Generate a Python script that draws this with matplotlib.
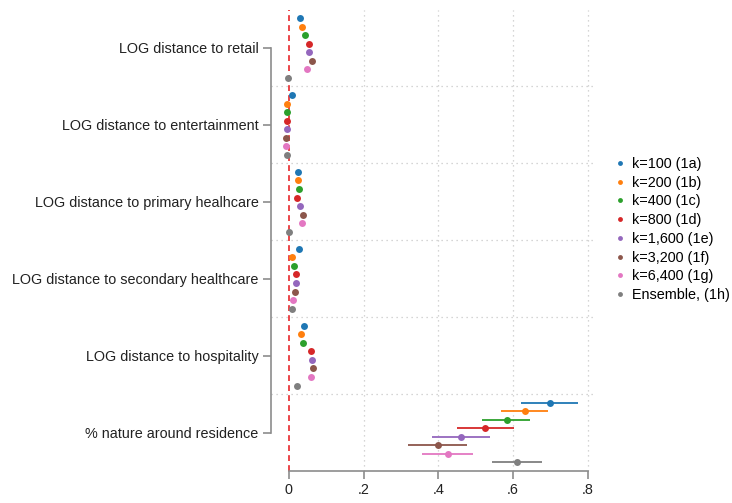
import matplotlib
matplotlib.use("Agg")
import matplotlib.pyplot as plt
import numpy as np

plt.rcParams['font.family'] = ['Liberation Sans', 'DejaVu Sans']

categories = ["LOG distance to retail", "LOG distance to entertainment",
              "LOG distance to primary healhcare", "LOG distance to secondary healthcare",
              "LOG distance to hospitality", "% nature around residence"]
series = ["k=100 (1a)", "k=200 (1b)", "k=400 (1c)", "k=800 (1d)",
          "k=1,600 (1e)", "k=3,200 (1f)", "k=6,400 (1g)", "Ensemble, (1h)"]
colors = ["#1f77b4", "#ff7f0e", "#2ca02c", "#d62728",
          "#9467bd", "#8c564b", "#e377c2", "#7f7f7f"]

# coefficients per series, over categories (retail, entertainment, primary, secondary, hospitality, nature)
coef = [
    [0.029, 0.009, 0.023, 0.026, 0.041, 0.699],
    [0.034, -0.005, 0.023, 0.009, 0.032, 0.632],
    [0.043, -0.004, 0.028, 0.014, 0.039, 0.584],
    [0.053, -0.005, 0.022, 0.018, 0.058, 0.526],
    [0.055, -0.004, 0.030, 0.019, 0.062, 0.461],
    [0.062, -0.008, 0.039, 0.015, 0.064, 0.399],
    [0.049, -0.009, 0.036, 0.010, 0.059, 0.425],
    [-0.003, -0.005, 0.000, 0.008, 0.022, 0.610],
]
ci_low = [
    [0.026, 0.006, 0.020, 0.023, 0.038, 0.621],
    [0.031, -0.008, 0.020, 0.006, 0.029, 0.569],
    [0.040, -0.007, 0.025, 0.011, 0.036, 0.518],
    [0.050, -0.008, 0.019, 0.015, 0.055, 0.450],
    [0.052, -0.007, 0.027, 0.016, 0.059, 0.384],
    [0.059, -0.011, 0.036, 0.012, 0.061, 0.320],
    [0.046, -0.012, 0.033, 0.007, 0.056, 0.356],
    [-0.006, -0.008, -0.003, 0.005, 0.019, 0.544],
]
ci_high = [
    [0.032, 0.012, 0.026, 0.029, 0.044, 0.774],
    [0.037, -0.002, 0.026, 0.012, 0.035, 0.694],
    [0.046, -0.001, 0.031, 0.017, 0.042, 0.646],
    [0.056, -0.002, 0.025, 0.021, 0.061, 0.603],
    [0.058, -0.001, 0.033, 0.022, 0.065, 0.538],
    [0.065, -0.005, 0.042, 0.018, 0.067, 0.476],
    [0.052, -0.006, 0.039, 0.013, 0.062, 0.494],
    [0.000, -0.002, 0.003, 0.011, 0.025, 0.677],
]
xticks = [0, 0.2, 0.4, 0.6, 0.8]
xticklabels = ["0", ".2", ".4", ".6", ".8"]

fig = plt.figure(figsize=(7.32, 5.03), dpi=100)
ax = fig.add_axes([271/732, (503-471)/503, (595-271)/732, (471-9.5)/503])

ncat = len(categories)
nser = len(series)
base = np.arange(ncat)
for i in range(nser):
    off = (i - (nser - 1) / 2) / 9.0
    y = base + off
    c = np.array(coef[i]); lo = np.array(ci_low[i]); hi = np.array(ci_high[i])
    ax.hlines(y, lo, hi, color=colors[i], lw=1.3, zorder=3)
    ax.plot(c, y, 'o', color=colors[i], ms=5, mew=0, zorder=4, label=series[i])

ax.axvline(0, color="#e8262a", ls=(0, (3.5, 2.5)), lw=1.2, zorder=2)

ax.set_xlim(-0.048, 0.82)
ax.set_ylim(ncat - 0.5, -0.5)

ax.set_xticks(xticks)
ax.set_xticklabels(xticklabels)
ax.set_yticks(base)
ax.set_yticklabels(categories)
ax.set_yticks(np.arange(ncat - 1) + 0.5, minor=True)

for x in xticks[1:]:
    ax.axvline(x, color="#c8c8c8", ls=(0, (1, 3)), lw=0.9, zorder=1)
for yv in np.arange(ncat - 1) + 0.5:
    ax.axhline(yv, color="#c8c8c8", ls=(0, (1, 3)), lw=0.9, zorder=1)

for s in ["top", "right"]:
    ax.spines[s].set_visible(False)
ax.spines["left"].set_bounds(0, ncat - 1)
ax.spines["bottom"].set_bounds(0, 0.8)
ax.spines["left"].set_color("#8c8c8c")
ax.spines["bottom"].set_color("#8c8c8c")
ax.spines["left"].set_linewidth(1.2)
ax.spines["bottom"].set_linewidth(1.2)
ax.tick_params(axis="both", which="major", length=6, width=1.2, color="#8c8c8c",
               labelsize=10.4, labelcolor="#222222", pad=3)
ax.tick_params(axis="y", which="minor", length=0)

fig.legend(loc="center left", bbox_to_anchor=(603/732, 1 - 229.5/503), frameon=False,
           fontsize=10.4, handlelength=0.6, handletextpad=0.5, labelspacing=0.33,
           markerscale=0.7)

fig.savefig("out.png", dpi=100)
